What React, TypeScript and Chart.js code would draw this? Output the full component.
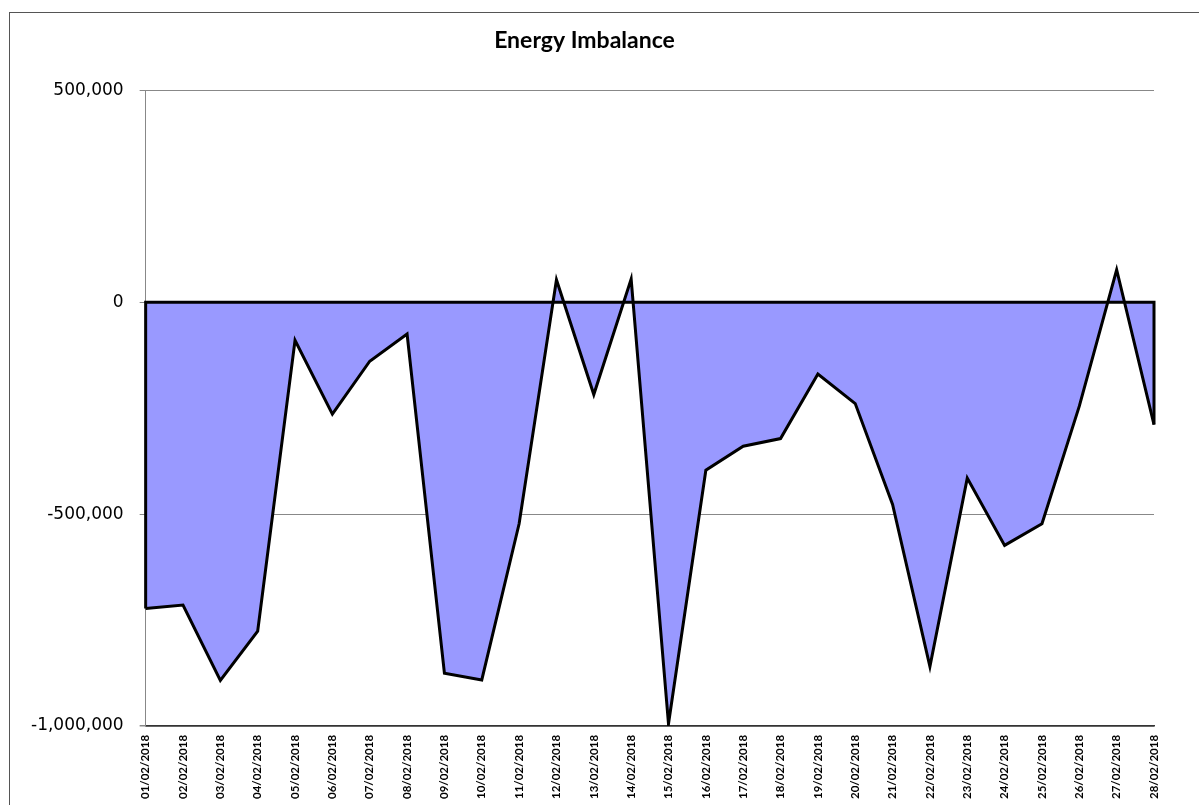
import React, { useEffect, useRef } from "react";
import { Chart, registerables } from "chart.js";

Chart.register(...registerables);

const dateLabels = [
  "01/02/2018", "02/02/2018", "03/02/2018", "04/02/2018", "05/02/2018", "06/02/2018", "07/02/2018",
  "08/02/2018", "09/02/2018", "10/02/2018", "11/02/2018", "12/02/2018", "13/02/2018", "14/02/2018",
  "15/02/2018", "16/02/2018", "17/02/2018", "18/02/2018", "19/02/2018", "20/02/2018", "21/02/2018",
  "22/02/2018", "23/02/2018", "24/02/2018", "25/02/2018", "26/02/2018", "27/02/2018", "28/02/2018",
];

const imbalance = [
  -722600, -714600, -892300, -776000, -89600, -264000, -139000,
  -74700, -875700, -891500, -522800, 53500, -217700, 55000,
  -995000, -396200, -339600, -321600, -169000, -239000, -477000,
  -860000, -415000, -573800, -522800, -245000, 77000, -288600,
];

const yMin = -1000000;
const yMax = 500000;
const yStep = 500000;

const outlinePlugin = {
  id: "areaOutline",
  afterDatasetsDraw(chart: any) {
    const meta = chart.getDatasetMeta(0);
    const pts = meta.data;
    if (!pts || pts.length === 0) return;
    const y0 = chart.scales.y.getPixelForValue(0);
    const first = pts[0];
    const last = pts[pts.length - 1];
    const ctx = chart.ctx;
    ctx.save();
    ctx.strokeStyle = "#000000";
    ctx.lineWidth = 3;
    ctx.lineJoin = "miter";
    ctx.beginPath();
    ctx.moveTo(first.x, first.y);
    ctx.lineTo(first.x, y0);
    ctx.lineTo(last.x, y0);
    ctx.lineTo(last.x, last.y);
    ctx.stroke();
    ctx.restore();
  },
};

export default function App() {
  const canvasRef = useRef<HTMLCanvasElement | null>(null);

  useEffect(() => {
    if (!canvasRef.current) return;
    const chart = new Chart(canvasRef.current, {
      type: "line",
      data: {
        labels: dateLabels,
        datasets: [
          {
            label: "Energy Imbalance",
            data: imbalance,
            borderColor: "#000000",
            borderWidth: 3,
            backgroundColor: "#9999FF",
            fill: "origin",
            pointRadius: 0,
            tension: 0,
            borderJoinStyle: "miter",
          },
        ],
      },
      options: {
        animation: false,
        responsive: true,
        maintainAspectRatio: false,
        layout: { padding: { left: 15, right: 45, top: 27, bottom: 5 } },
        plugins: {
          legend: { display: false },
          tooltip: { enabled: false },
          title: {
            display: true,
            text: "Energy Imbalance",
            color: "#000000",
            font: { family: "Lato", size: 23, weight: "bold" },
            padding: { top: 0, bottom: 36 },
          },
        },
        scales: {
          x: {
            offset: false,
            grid: { display: false },
            border: { display: true, color: "#333333", width: 1.5 },
            ticks: {
              autoSkip: false,
              minRotation: 90,
              maxRotation: 90,
              padding: 1,
              color: "#000000",
              font: { family: "Lato", size: 11.5, weight: "bold" },
            },
          },
          y: {
            min: yMin,
            max: yMax,
            border: { display: true, color: "#888888", width: 1 },
            grid: {
              color: (ctx: any) => (ctx.tick && ctx.tick.value === yMin ? "#333333" : "#888888"),
              lineWidth: (ctx: any) => (ctx.tick && ctx.tick.value === yMin ? 1.5 : 1),
              tickLength: 6,
              tickColor: "#888888",
            },
            ticks: {
              stepSize: yStep,
              padding: 16,
              color: "#000000",
              font: { family: "DejaVu Sans", size: 17 },
              callback: (v: any) => Number(v).toLocaleString("en-US"),
            },
          },
        },
      },
      plugins: [outlinePlugin],
    });
    return () => chart.destroy();
  }, []);

  return (
    <div
      style={{
        position: "fixed",
        left: 0,
        top: 0,
        width: 1199,
        height: 805,
        background: "#ffffff",
        overflow: "hidden",
      }}
    >
      <div
        style={{
          position: "absolute",
          left: 9,
          top: 12,
          width: 1300,
          height: 1000,
          border: "1px solid #555555",
        }}
      />
      <canvas ref={canvasRef} style={{ position: "relative" }} />
    </div>
  );
}
